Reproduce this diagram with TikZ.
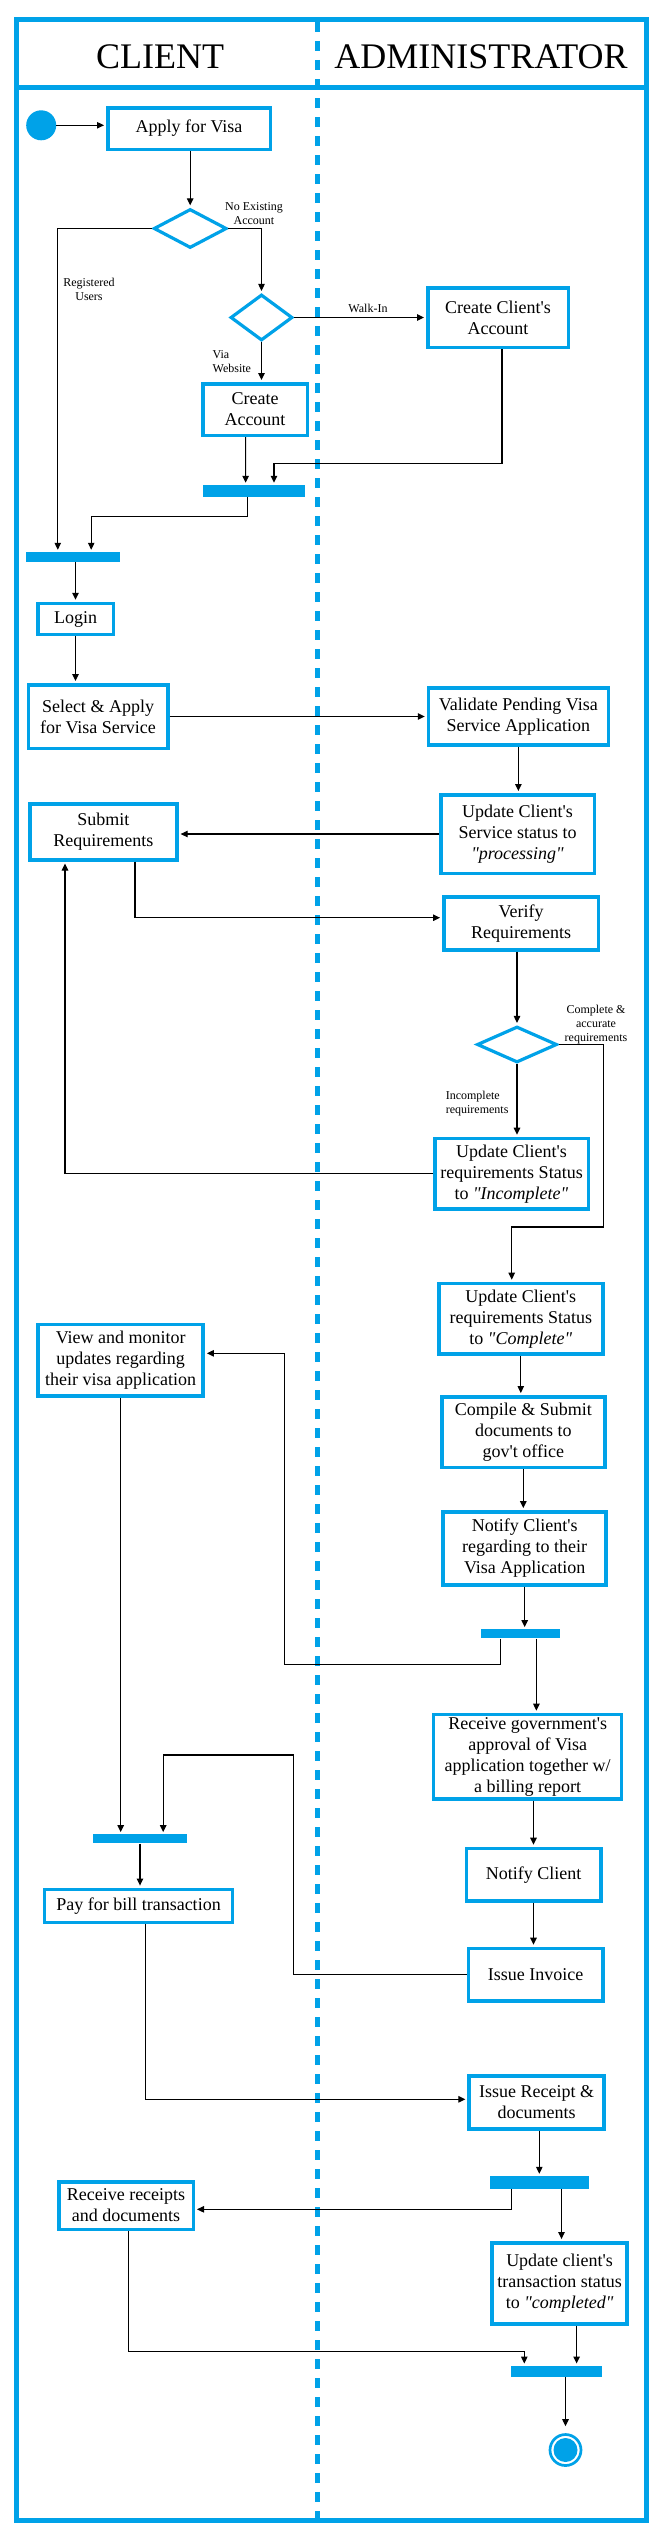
\documentclass[tikz,border=0pt]{standalone}
\usepackage{fontspec}
\setmainfont{Liberation Serif}[Ligatures=TeXOff]
\usetikzlibrary{shapes.geometric,arrows.meta}
\definecolor{swimblue}{HTML}{00A2E8}
\tikzset{
    actbox/.style={draw=swimblue, line width=3.5pt, inner sep=1pt, align=center, font=\fontsize{18}{21}\selectfont},
    decision/.style={diamond, draw=swimblue, line width=3.2pt, inner sep=0pt},
    syncbar/.style={fill=swimblue, inner sep=0pt},
    startdot/.style={circle, fill=swimblue, minimum size=30pt, inner sep=0pt},
    enddot/.style={circle, draw=swimblue, line width=2.7pt, minimum size=31pt, inner sep=0pt,
        path picture={\fill[swimblue] (path picture bounding box.center) circle (12pt);}},
    guard/.style={font=\fontsize{12}{14}\selectfont, inner sep=0pt, align=center},
    lane/.style={font=\fontsize{36}{40}\selectfont, inner sep=0pt},
    flow/.style={line width=1.1pt, shorten >=2pt, -{Triangle[length=7pt,width=6.5pt]}}
}
\begin{document}
\begin{tikzpicture}[x=1pt, y=-1pt]
    \useasboundingbox (0,0) rectangle (656,2540);
    \fill[white] (0,0) rectangle (656,2540);

            %%draw the swimlanes
            \draw[swimblue, line width=5pt] (16,19.7) rectangle (646,2520.5);
            \draw[swimblue, line width=5pt] (16,87.5) to (646,87.5);
            \draw[swimblue, line width=4.5pt, dash pattern=on 10pt off 9pt] (317.5,22) to (317.5,2518);
                \node[lane] (client) at (160,57){CLIENT};
                \node[lane] (admin) at (481,57){ADMINISTRATOR};

            %%draw the activities
            \node[startdot] (start) at (41.2,125.3){};
            \node[actbox, minimum width=162.5pt, minimum height=41.5pt] (apply) at (189,128.5){Apply for Visa};
            \node[decision, minimum width=73pt, minimum height=39pt] (hasacct) at (190.2,228.5){};
            \node[decision, minimum width=62pt, minimum height=46pt] (regmode) at (261.5,317.5){};
            \node[actbox, minimum width=140.5pt, minimum height=59.5pt] (walkin) at (498,317.5){Create Client's\\Account};
            \node[actbox, minimum width=104.5pt, minimum height=51.5pt] (website) at (255,409.5){Create\\Account};
            \node[syncbar, minimum width=102.4pt, minimum height=11.7pt] (acctjoin) at (254.2,490.8){};
            \node[syncbar, minimum width=94pt, minimum height=9.7pt] (loginjoin) at (73,556.8){};
            \node[actbox, minimum width=75.5pt, minimum height=31pt] (login) at (75.5,619){Login};
            \node[actbox, minimum width=139.5pt, minimum height=63.5pt] (select) at (98,716.5){Select \& Apply\\for Visa Service};
            \node[actbox, minimum width=179.7pt, minimum height=57pt] (validate) at (518.4,716.3){Validate Pending Visa\\Service Application};
            \node[actbox, minimum width=153.5pt, minimum height=78.5pt] (processing) at (517.5,834){Update Client's\\Service status to\\\textit{"processing"}};
            \node[actbox, minimum width=147pt, minimum height=56pt] (submit) at (103.4,831.8){Submit\\Requirements};
            \node[actbox, minimum width=154.5pt, minimum height=53pt] (verify) at (521,923.3){Verify\\Requirements};
            \node[decision, minimum width=80pt, minimum height=36pt] (reqcheck) at (517,1044.5){};
            \node[actbox, minimum width=153.5pt, minimum height=70.5pt] (incomplete) at (511.5,1173.7){Update Client's\\requirements Status\\to \textit{"Incomplete"}};
            \node[actbox, minimum width=164pt, minimum height=70.5pt] (complete) at (520.8,1318.7){Update Client's\\requirements Status\\to \textit{"Complete"}};
            \node[actbox, minimum width=163pt, minimum height=70.5pt] (compile) at (523.3,1432){Compile \& Submit\\documents to\\gov't office};
            \node[actbox, minimum width=163pt, minimum height=73pt] (notifyapp) at (524.7,1548.3){Notify Client's\\regarding to their\\Visa Application};
            \node[syncbar, minimum width=79pt, minimum height=9pt] (appfork) at (520.5,1633.8){};
            \node[actbox, minimum width=165pt, minimum height=71.5pt] (monitor) at (120.7,1360.2){View and monitor\\updates regarding\\their visa application};
            \node[actbox, minimum width=188pt, minimum height=84.5pt] (approval) at (527.7,1756.7){Receive government's\\approval of Visa\\application together w/\\a billing report};
            \node[actbox, minimum width=134.5pt, minimum height=52.5pt] (notify) at (533.5,1874.7){Notify Client};
            \node[actbox, minimum width=134.5pt, minimum height=52.5pt] (invoice) at (535.5,1974.7){Issue Invoice};
            \node[syncbar, minimum width=94pt, minimum height=9pt] (payjoin) at (140,1838.8){};
            \node[actbox, minimum width=188pt, minimum height=33pt] (pay) at (138.5,1905.8){Pay for bill transaction};
            \node[actbox, minimum width=135pt, minimum height=53pt] (receipt) at (536.6,2102.3){Issue Receipt \&\\documents};
            \node[syncbar, minimum width=99.5pt, minimum height=12.7pt] (docsfork) at (539.3,2182.3){};
            \node[actbox, minimum width=134.5pt, minimum height=47.5pt] (getdocs) at (126,2205.5){Receive receipts\\and documents};
            \node[actbox, minimum width=135pt, minimum height=81pt] (completed) at (559.6,2283.3){Update client's\\transaction status\\to \textit{"completed"}};
            \node[syncbar, minimum width=91.2pt, minimum height=11pt] (endjoin) at (556.1,2371.2){};
            \node[enddot] (finish) at (565.5,2450){};

            %%draw the flows
            \draw[flow] (start.east) to (start.east -| apply.west);
            \draw[flow] (apply.south -| hasacct.north) to (hasacct.north);
            \draw[flow] (hasacct.west) -| ([xshift=32pt]loginjoin.north west);
                \node[guard] (reglbl) at (89,289){Registered\\Users};
            \draw[flow] (hasacct.east) -| (regmode.north);
                \node[guard] (noacctlbl) at (254,213.5){No Existing\\Account};
            \draw[flow] (regmode.east) to (regmode.east -| walkin.west);
                \node[guard] (walklbl) at (368,308){Walk-In};
            \draw[flow] (regmode.south) to (regmode.south |- website.north);
                \node[guard, align=left, anchor=west] (weblbl) at (212.5,362){Via\\Website};
            \draw[flow] ([xshift=-9.4pt]website.south) to ([xshift=-8.6pt]acctjoin.north);
            \draw[flow] ([xshift=4pt]walkin.south) -- ++(0,114.75) -| ([xshift=19.8pt]acctjoin.north);
            \draw[flow] ([xshift=-6.9pt]acctjoin.south) -- ++(0,19.35) -| ([xshift=18.2pt]loginjoin.north);
            \draw[flow] (login.north |- loginjoin.south) to (login.north);
            \draw[flow] (login.south) to (login.south |- select.north);
            \draw[flow] (select.east) to (select.east -| validate.west);
            \draw[flow] (validate.south) to (validate.south |- processing.north);
            \draw[flow] (processing.west) to (processing.west -| submit.east);
            \draw[flow] ([xshift=31.6pt]submit.south) |- ([yshift=5.6pt]verify.west);
            \draw[flow] (reqcheck.north |- verify.south) to (reqcheck.north);
            \draw[flow] (reqcheck.south) to (reqcheck.south |- incomplete.north);
                \node[guard, align=left, anchor=west] (inclbl) at (445.6,1103.4){Incomplete\\requirements};
            \draw[flow] (reqcheck.east) -- ++(44.7,0) -- ++(0,182.5) -| ([xshift=-9.1pt]complete.north);
                \node[guard] (oklbl) at (596,1025){Complete \&\\accurate\\requirements};
            \draw[flow] (incomplete.west) -| ([xshift=-38.4pt]submit.south);
            \draw[flow] (complete.south) to (complete.south |- compile.north);
            \draw[flow] (compile.south) to (compile.south |- notifyapp.north);
            \draw[flow] (notifyapp.south) to (notifyapp.south |- appfork.north);
            \draw[flow] ([xshift=-20.1pt]appfork.south) -- ++(0,26) -- ++(-215.9,0) |- ([yshift=6.9pt]monitor.east);
            \draw[flow] ([xshift=15.9pt]appfork.south) to ([xshift=15.9pt]appfork.south |- approval.north);
            \draw[flow] (monitor.south) to (monitor.south |- payjoin.north);
            \draw[flow] (notify.north |- approval.south) to (notify.north);
            \draw[flow] (notify.south) to (notify.south |- invoice.north);
            \draw[flow] (invoice.west) -- ++(-172.85,0) -- ++(0,-219.7) -| ([xshift=23.2pt]payjoin.north);
            \draw[flow] (payjoin.south) to (payjoin.south |- pay.north);
            \draw[flow] ([xshift=6.7pt]pay.south) |- ([yshift=3pt]receipt.west);
            \draw[flow] (docsfork.north |- receipt.south) to (docsfork.north);
            \draw[flow] ([xshift=-28pt]docsfork.south) |- ([yshift=-3.8pt]getdocs.east);
            \draw[flow] ([xshift=22.2pt]docsfork.south) to ([xshift=22.2pt]docsfork.south |- completed.north);
            \draw[flow] ([xshift=2.5pt]getdocs.south) -- ++(0,120.75) -| ([xshift=-31.8pt]endjoin.north);
            \draw[flow] ([xshift=17pt]completed.south) to ([xshift=17pt]completed.south |- endjoin.north);
            \draw[flow, shorten >=7pt] (finish.north |- endjoin.south) to (finish.north);
\end{tikzpicture}
\end{document}
